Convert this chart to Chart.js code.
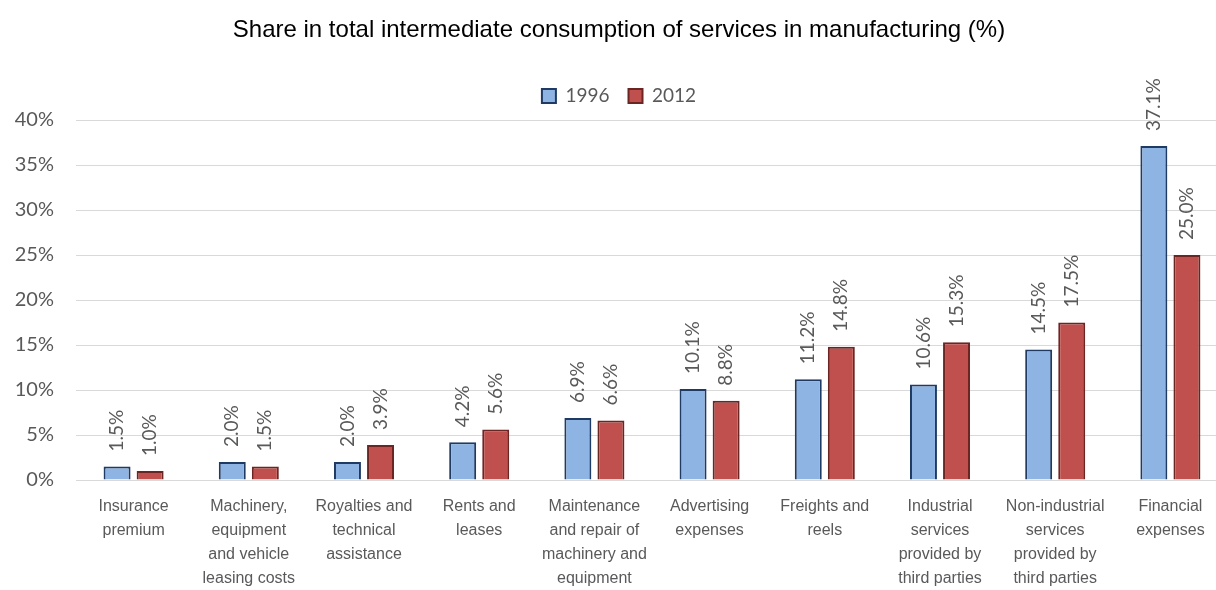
<!DOCTYPE html>
<html>
<head>
<meta charset="utf-8">
<script src="https://cdn.jsdelivr.net/npm/chart.js@4"></script>
<style>
  html, body { margin: 0; padding: 0; background: #fff; overflow: hidden; }
  #wrap { width: 1228px; height: 590px; }
</style>
</head>
<body>
<div id="wrap"><canvas id="myChart"></canvas></div>
<script>
const categories = [
  ["Insurance", "premium"],
  ["Machinery,", "equipment", "and vehicle", "leasing costs"],
  ["Royalties and", "technical", "assistance"],
  ["Rents and", "leases"],
  ["Maintenance", "and repair of", "machinery and", "equipment"],
  ["Advertising", "expenses"],
  ["Freights and", "reels"],
  ["Industrial", "services", "provided by", "third parties"],
  ["Non-industrial", "services", "provided by", "third parties"],
  ["Financial", "expenses"],
];
const values1996 = [1.5, 2.0, 2.0, 4.2, 6.9, 10.1, 11.2, 10.6, 14.5, 37.1];
const values2012 = [1.0, 1.5, 3.9, 5.6, 6.6, 8.8, 14.8, 15.3, 17.5, 25.0];
const yTicks = [0, 5, 10, 15, 20, 25, 30, 35, 40];

const calibriLike = "Lato, 'Open Sans', sans-serif";
const arialLike = "'Liberation Sans', Arial, sans-serif";

// value labels standing on top of the bars, rotated
const barLabels = {
  id: "barLabels",
  afterDatasetsDraw(chart) {
    const ctx = chart.ctx;
    ctx.save();
    ctx.font = "19px " + calibriLike;
    ctx.fillStyle = "#595959";
    ctx.textAlign = "left";
    ctx.textBaseline = "middle";
    chart.data.datasets.forEach((ds, i) => {
      chart.getDatasetMeta(i).data.forEach((bar, j) => {
        ctx.save();
        ctx.translate(bar.x, bar.y - 15);
        ctx.rotate(-Math.PI / 2);
        ctx.fillText(ds.data[j].toFixed(1) + "%", 0, 0);
        ctx.restore();
      });
    });
    ctx.restore();
  },
};

new Chart(document.getElementById("myChart"), {
  type: "bar",
  data: {
    labels: categories,
    datasets: [
      {
        label: "1996",
        data: values1996,
        backgroundColor: "#8EB4E3",
        borderColor: "#1F3B63",
        borderWidth: 2,
        categoryPercentage: 0.574,
        barPercentage: 0.816,
      },
      {
        label: "2012",
        data: values2012,
        backgroundColor: "#C0504D",
        borderColor: "#6B2523",
        borderWidth: 2,
        categoryPercentage: 0.574,
        barPercentage: 0.816,
      },
    ],
  },
  options: {
    responsive: true,
    maintainAspectRatio: false,
    animation: false,
    layout: { padding: { left: 10 } },
    plugins: {
      title: {
        display: true,
        text: "Share in total intermediate consumption of services in manufacturing (%)",
        color: "#000",
        font: { family: arialLike, size: 24, weight: "normal" },
        padding: { top: 15.6, bottom: 23.1 },
      },
      legend: {
        display: true,
        position: "top",
        labels: {
          color: "#595959",
          font: { family: calibriLike, size: 19 },
          boxWidth: 14,
          boxHeight: 14,
          padding: 19,
        },
      },
      tooltip: { enabled: false },
    },
    scales: {
      x: {
        grid: { display: false, drawTicks: false },
        border: { color: "#D9D9D9", width: 1 },
        ticks: {
          autoSkip: false,
          maxRotation: 0,
          padding: 15,
          color: "#595959",
          font: { family: arialLike, size: 16, lineHeight: 1.5 },
        },
        afterFit: (scale) => { scale.height = 110; },
      },
      spacer: {
        type: "linear",
        position: "top",
        display: true,
        grid: { display: false, drawTicks: false },
        border: { display: false },
        ticks: { display: false },
        afterFit: (scale) => { scale.height = 4.5; },
      },
      y: {
        min: 0,
        max: 40,
        afterBuildTicks: (scale) => { scale.ticks = yTicks.map((v) => ({ value: v })); },
        grid: { color: "#D9D9D9", lineWidth: 1, drawTicks: false },
        border: { display: false },
        ticks: {
          padding: 22,
          color: "#595959",
          font: { family: calibriLike, size: 20 },
          callback: (v) => v + "%",
        },
        afterFit: (scale) => { scale.width = 66; },
      },
    },
  },
  plugins: [barLabels],
});
</script>
</body>
</html>
